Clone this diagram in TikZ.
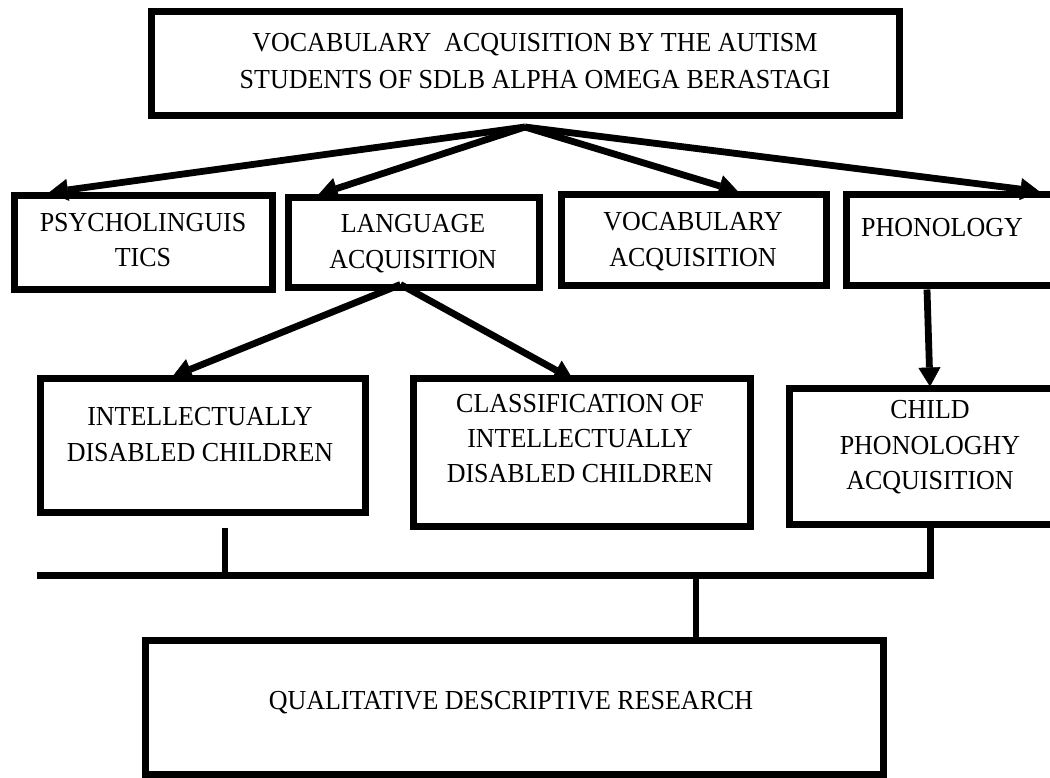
\documentclass[tikz,border=0pt]{standalone}
\usepackage{fontspec}
\setmainfont{Liberation Serif}
\newfontfamily\tallfont[FakeStretch=0.945]{Liberation Serif}
\usetikzlibrary{arrows.meta}
\newcommand\lstr{\rule[-8.2pt]{0pt}{34.4pt}}
\begin{document}
\begin{tikzpicture}[x=1pt,y=-1pt,
  box/.style={draw=black, line width=7pt, fill=white, inner sep=0pt},
  txt/.style={inner sep=0pt, align=center, font=\tallfont\fontsize{27.5pt}{34pt}\selectfont},
  arr/.style={line width=6.8pt, -{Triangle[length=19pt,width=22pt,line width=0.5pt]}},
  ln/.style={line width=6.5pt}]
\useasboundingbox (0,0) rectangle (1050,778);
\clip (0,0) rectangle (1050,778);
\fill[white] (0,0) rectangle (1050,778);

% boxes
\node[box, minimum width=748pt, minimum height=104pt] (top) at (525,64) {};
\node[box, minimum width=258pt, minimum height=94pt] (psy) at (143,243) {};
\node[box, minimum width=251pt, minimum height=90pt] (lang) at (413.5,243) {};
\node[box, minimum width=265pt, minimum height=91pt] (voc) at (693.5,240.5) {};
\node[box, minimum width=229pt, minimum height=91pt] (phon) at (960.5,240.5) {};
\node[box, minimum width=325pt, minimum height=134pt] (intel) at (202.5,445) {};
\node[box, minimum width=337pt, minimum height=148pt] (class) at (581.5,452) {};
\node[box, minimum width=286pt, minimum height=136pt] (child) at (932,456) {};
\node[box, minimum width=738pt, minimum height=134pt] (bot) at (514,707) {};

% texts
\node[txt, font=\tallfont\fontsize{27.5pt}{37pt}\selectfont] (topt) at (535,61.5)
  {VOCABULARY~ ACQUISITION BY THE AUTISM\lstr\\STUDENTS OF SDLB ALPHA OMEGA BERASTAGI\lstr};
\node[txt] (psyt) at (143,240) {PSYCHOLINGUIS\lstr\\TICS\lstr};
\node[txt] (langt) at (413,241.5) {LANGUAGE\lstr\\ACQUISITION\lstr};
\node[txt] (voct) at (693,239.5) {VOCABULARY\lstr\\ACQUISITION\lstr};
\node[txt] (phont) at (942,228) {PHONOLOGY\lstr};
\node[txt] (intelt) at (200,434.5) {INTELLECTUALLY\lstr\\DISABLED CHILDREN\lstr};
\node[txt] (classt) at (580,438.5) {CLASSIFICATION OF\lstr\\INTELLECTUALLY\lstr\\DISABLED CHILDREN\lstr};
\node[txt] (childt) at (930,445) {CHILD\lstr\\PHONOLOGHY\lstr\\ACQUISITION\lstr};
\node[txt] (bott) at (511,700) {QUALITATIVE DESCRIPTIVE RESEARCH\lstr};

% top arrows
\coordinate (hub) at (525,127);
\draw[arr] (hub) -- ([xshift=-94pt]psy.north);
\draw[arr] (hub) -- ([xshift=-95pt]lang.north);
\draw[arr] (hub) -- ([xshift=44.5pt]voc.north);
\draw[arr] (hub) -- ([xshift=79pt]phon.north);

% language acquisition arrows
\coordinate (lhub) at ([xshift=-13pt,yshift=7pt]lang.south);
\draw[arr] (lhub) -- ([xshift=-30pt,yshift=-2pt]intel.north);
\draw[arr] (lhub) -- ([xshift=-8.5pt,yshift=-5pt]class.north);

% phonology arrow
\draw[arr] ([xshift=-33.5pt]phon.south) -- ([xshift=-2pt,yshift=-2pt]child.north);

% bottom connectors
\coordinate (busL) at (37,575);
\draw[ln, line width=7pt] ([xshift=-2pt]child.south) |- (busL);
\coordinate (iv) at ([xshift=22.5pt,yshift=-12pt]intel.south);
\draw[ln, line width=6pt] (iv) -- (iv |- busL);
\coordinate (dv) at ([xshift=182pt]bot.north);
\draw[ln, line width=6pt] (dv |- busL) -- (dv);
\end{tikzpicture}
\end{document}
